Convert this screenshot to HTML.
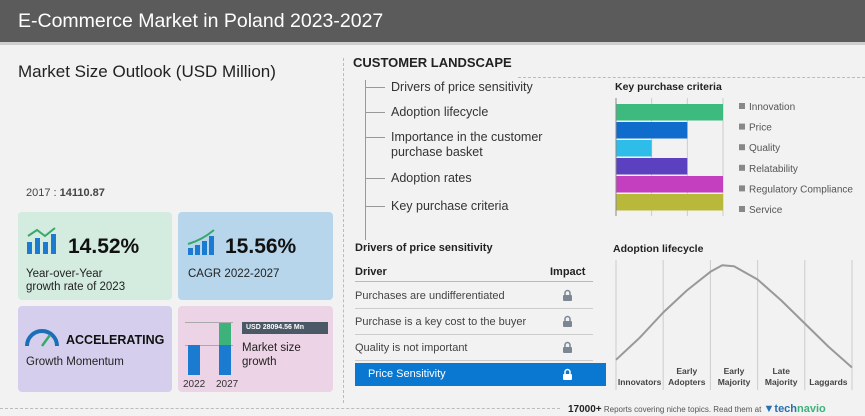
<!DOCTYPE html>
<html><head><meta charset="utf-8">
<style>
body{margin:0;width:865px;height:416px;overflow:hidden;background:#f2f2f2;font-family:"Liberation Sans",sans-serif;position:relative}
.a{position:absolute;white-space:nowrap}
.card{position:absolute;border-radius:4px}
</style></head><body>
<div class="a" style="left:0;top:0;width:865px;height:42px;background:#5b5b5b;border-bottom:3px solid #cfcfcf"></div>
<div class="a" style="left:18px;top:10px;font-size:19.5px;color:#fff">E-Commerce Market in Poland 2023-2027</div>
<div class="a" style="left:18px;top:62px;font-size:17px;color:#222">Market Size Outlook (USD Million)</div>
<div class="a" style="left:343px;top:58px;height:345px;border-left:1px dashed #bbb"></div>
<div class="a" style="left:0;top:408px;width:560px;border-top:1px dashed #bbb"></div>
<div class="a" style="left:26px;top:187px;font-size:11px;color:#444">2017 : <b>14110.87</b></div>

<div class="card" style="left:18px;top:212px;width:154px;height:88px;background:#d4ebe0"></div>
<svg class="a" style="left:25px;top:226px" width="36" height="30"><rect x="2" y="16" width="5" height="12" fill="#1a7bd0"/><rect x="10" y="12" width="5" height="16" fill="#1a7bd0"/><rect x="18" y="16" width="5" height="12" fill="#1a7bd0"/><rect x="26" y="8" width="5" height="20" fill="#1a7bd0"/><polyline points="3,10 12,4 20,10 30,2" stroke="#3aa86a" stroke-width="2" fill="none"/></svg>
<div class="a" style="left:68px;top:235px;font-size:21px;font-weight:bold;color:#111">14.52%</div>
<div class="a" style="left:26px;top:268px;font-size:11.5px;color:#222;line-height:13px">Year-over-Year<br>growth rate of 2023</div>

<div class="card" style="left:178px;top:212px;width:155px;height:88px;background:#b7d6ec"></div>
<svg class="a" style="left:186px;top:228px" width="32" height="28"><rect x="2" y="20" width="5" height="7" fill="#1a7bd0"/><rect x="9" y="17" width="5" height="10" fill="#1a7bd0"/><rect x="16" y="13" width="5" height="14" fill="#1a7bd0"/><rect x="23" y="8" width="5" height="19" fill="#1a7bd0"/><path d="M2 16 Q16 12 28 2" stroke="#3aa86a" stroke-width="2" fill="none"/></svg>
<div class="a" style="left:225px;top:235px;font-size:21px;font-weight:bold;color:#111">15.56%</div>
<div class="a" style="left:188px;top:268px;font-size:11.5px;color:#222">CAGR 2022-2027</div>

<div class="card" style="left:18px;top:306px;width:154px;height:86px;background:#d5cfed"></div>
<svg class="a" style="left:24px;top:326px" width="36" height="22"><path d="M3 20 A15 15 0 0 1 33 20" stroke="#1a6fb8" stroke-width="4" fill="none"/><line x1="18" y1="20" x2="26" y2="9" stroke="#3aa86a" stroke-width="2.5"/></svg>
<div class="a" style="left:66px;top:333px;font-size:12.5px;font-weight:bold;color:#111">ACCELERATING</div>
<div class="a" style="left:26px;top:356px;font-size:11.5px;color:#222">Growth Momentum</div>

<div class="card" style="left:178px;top:306px;width:155px;height:86px;background:#ecd3e5"></div>
<div class="a" style="left:185px;top:322px;width:48px;border-top:1px solid #aaa"></div>
<div class="a" style="left:185px;top:345px;width:48px;border-top:1px solid #aaa"></div>
<div class="a" style="left:188px;top:345px;width:12px;height:30px;background:#1a7bd0"></div>
<div class="a" style="left:219px;top:345px;width:12px;height:30px;background:#1a7bd0"></div>
<div class="a" style="left:219px;top:323px;width:12px;height:22px;background:#3db27a"></div>
<div class="a" style="left:183px;top:379px;font-size:10px;color:#333">2022</div>
<div class="a" style="left:216px;top:379px;font-size:10px;color:#333">2027</div>
<div class="a" style="left:242px;top:322px;width:82px;height:12px;background:#4b5866;color:#fff;font-size:7px;font-weight:bold;line-height:12px;padding-left:4px">USD 28094.56 Mn</div>
<div class="a" style="left:242px;top:341px;font-size:11.5px;color:#222;line-height:14px">Market size<br>growth</div>

<div class="a" style="left:353px;top:55px;font-size:13px;font-weight:bold;color:#222">CUSTOMER LANDSCAPE</div>
<div class="a" style="left:518px;top:77px;width:347px;border-top:1px dashed #bbb"></div>
<div class="a" style="left:365px;top:80px;height:160px;border-left:1px solid #999"></div>
<div id="list"></div>

<svg class="a" style="left:600px;top:78px" width="265" height="150" id="kpc"></svg>
<div class="a" style="left:355px;top:242px;font-size:11px;font-weight:bold;color:#222">Drivers of price sensitivity</div>
<div class="a" style="left:355px;top:266px;font-size:11px;font-weight:bold;color:#222">Driver</div>
<div class="a" style="left:550px;top:266px;font-size:11px;font-weight:bold;color:#222">Impact</div>
<div id="drivers"></div>
<svg class="a" style="left:600px;top:240px" width="265" height="155" id="adopt"></svg>

<div class="a" style="left:568px;top:403px;font-size:8px;color:#555"><b style="font-size:10px;color:#222">17000+</b> Reports covering niche topics. Read them at <b style="font-size:11px;color:#2a6fb0">▼tech<span style="color:#3db27a">navio</span></b></div>

<script>
const listItems=["Drivers of price sensitivity","Adoption lifecycle","Importance in the customer\npurchase basket","Adoption rates","Key purchase criteria"];
const listY=[80,105,130,171,199];
const L=document.getElementById('list');
listItems.forEach((t,i)=>{
  const d=document.createElement('div');d.className='a';
  
  
  d.style.cssText=`left:365px;top:${listY[i]}px;font-size:12.5px;color:#333;line-height:15px`;
  d.innerHTML=`<span style="display:inline-block;width:20px;border-top:1px solid #999;vertical-align:middle;margin-right:6px"></span><span style="display:inline-block;vertical-align:top">${t.replace('\n','<br>')}</span>`;
  L.appendChild(d);
});
const criteria=["Innovation","Price","Quality","Relatability","Regulatory Compliance","Service"];
const importance=[3,2,1,2,3,3];
const colors=["#3dba7e","#0f6ccc","#2ebde8","#5b40c0","#c43ec0","#b8b83a"];
const NS='http://www.w3.org/2000/svg';
const kpc=document.getElementById('kpc');
function el(p,tag,at){const e=document.createElementNS(NS,tag);for(const k in at)e.setAttribute(k,at[k]);p.appendChild(e);return e;}
const kx=v=>16+v*(107/3), ky=i=>26+i*18, ly=i=>28+i*20.6;
let t=el(kpc,'text',{x:15,y:12,'font-size':10.5,'font-weight':'bold',fill:'#222'});t.textContent='Key purchase criteria';


for(let g=0;g<=3;g++){el(kpc,'line',{x1:kx(g),x2:kx(g),y1:20,y2:138,stroke:'#ccc'});}
criteria.forEach((c,i)=>{
  const r=el(kpc,'rect',{x:kx(0),y:ky(i),width:kx(importance[i])-kx(0),height:16.5,fill:colors[i]});
  
  
  el(kpc,'rect',{x:139,y:ly(i)-3,width:6,height:6,fill:'#888'});
  const tx=el(kpc,'text',{x:149,y:ly(i)+4,'font-size':10,fill:'#555'});tx.textContent=c;
  
  
});
el(kpc,'line',{x1:16,x2:16,y1:20,y2:138,stroke:'#888'});
const drivers=["Purchases are undifferentiated","Purchase is a key cost to the buyer","Quality is not important"];
const D=document.getElementById('drivers');
const lock='<svg width="11" height="12"><path d="M3 6V4a2.5 2.5 0 0 1 5 0v2" stroke="COL" stroke-width="1.5" fill="none"/><rect x="1" y="6" width="9" height="6" rx="1" fill="COL"/></svg>';
D.insertAdjacentHTML('beforeend','<div class="a" style="left:355px;top:281px;width:238px;border-top:1px solid #bbb"></div>');
drivers.forEach((d,i)=>{
  const y=283+i*26;
  const r=document.createElement('div');r.className='a';
  
  
  r.style.cssText=`left:355px;top:${y}px;width:238px;height:25px;border-bottom:1px solid #ccc;font-size:11px;color:#444;line-height:26px`;
  r.innerHTML=d+`<span style="position:absolute;left:207px;top:2px">${lock.replace(/COL/g,'#7b8793')}</span>`;
  D.appendChild(r);
});
const ps=document.createElement('div');ps.className='a';


ps.style.cssText='left:355px;top:363px;width:251px;height:23px;background:#0a78d0;color:#fff;font-size:11px;line-height:23px;padding-left:0';
ps.innerHTML='<span style="margin-left:13px">Price Sensitivity</span><span style="position:absolute;left:207px;top:3px">'+lock.replace(/COL/g,'#fff')+'</span>';
D.appendChild(ps);
const stages=[["","Innovators"],["Early","Adopters"],["Early","Majority"],["Late","Majority"],["","Laggards"]];
const curveX=[0,0.1,0.2,0.3,0.4,0.45,0.5,0.6,0.7,0.8,0.9,1];
const curveY=[0.12,0.32,0.55,0.75,0.92,0.98,0.97,0.85,0.66,0.45,0.24,0.05];
const ad=document.getElementById('adopt');
t=el(ad,'text',{x:13,y:12,'font-size':10.5,'font-weight':'bold',fill:'#222'});t.textContent='Adoption lifecycle';


const ax=v=>16+v*236, ay=v=>133-v*110;
for(let i=0;i<=5;i++){el(ad,'line',{x1:ax(i/5),x2:ax(i/5),y1:20,y2:150,stroke:'#ccc'});}
const p=el(ad,'polyline',{points:curveX.map((x,i)=>ax(x)+','+ay(curveY[i])).join(' '),fill:'none',stroke:'#999','stroke-width':2,'stroke-linejoin':'round'});


stages.forEach((s,i)=>{
  const cx=ax((i+0.5)/5);
  s.forEach((w,j)=>{if(!w)return;const tx=el(ad,'text',{x:cx,y:134+j*11,'font-size':8.5,'font-weight':'bold',fill:'#444','text-anchor':'middle'});tx.textContent=w;
  
  });
});
</script>
</body></html>
